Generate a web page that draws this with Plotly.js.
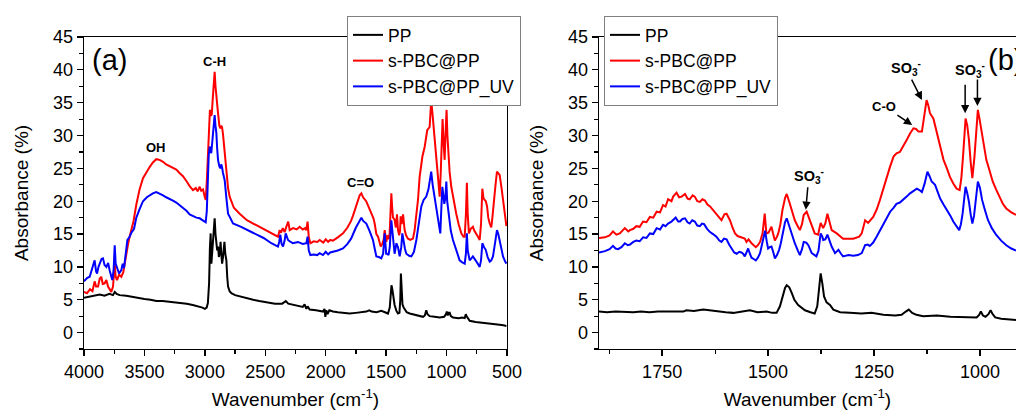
<!DOCTYPE html>
<html>
<head>
<meta charset="utf-8">
<script src="https://cdn.plot.ly/plotly-3.0.1.min.js"></script>
<style>html,body{margin:0;padding:0;background:#fff;}#chart{width:1016px;height:410px;}</style>
</head>
<body>
<div id="chart"></div>
<script>
// Series names
const seriesNames = ["PP", "s-PBC@PP", "s-PBC@PP_UV"];

// Panel (a): [wavenumber cm-1, absorbance %] readings
const ppA = [[4000,5.3],[3950,5.5],[3900,5.6],[3870,5.8],[3830,5.6],[3790,5.9],[3760,5.7],[3745,6.2],[3730,5.9],[3705,5.7],[3650,5.6],[3600,5.4],[3550,5.3],[3500,5.1],[3450,5.0],[3400,4.8],[3350,4.8],[3300,4.7],[3250,4.7],[3200,4.5],[3150,4.4],[3100,4.2],[3050,4.0],[3020,3.8],[3000,3.6],[2985,3.8],[2975,4.5],[2965,7.5],[2958,13.0],[2952,15.1],[2946,10.5],[2940,12.0],[2933,13.6],[2926,15.5],[2919,17.4],[2912,15.0],[2905,14.1],[2898,12.5],[2891,13.1],[2884,11.5],[2877,12.1],[2870,13.8],[2864,12.0],[2857,10.5],[2850,11.5],[2843,13.0],[2838,13.8],[2831,12.0],[2822,11.0],[2815,8.5],[2808,7.0],[2795,6.3],[2781,6.0],[2750,5.7],[2712,5.5],[2650,5.2],[2600,5.0],[2550,4.8],[2491,4.6],[2420,4.4],[2360,4.4],[2340,4.6],[2330,4.8],[2310,4.4],[2270,4.2],[2216,4.0],[2190,3.9],[2175,4.3],[2160,3.6],[2150,4.0],[2133,3.5],[2080,3.4],[2040,3.3],[2023,3.2],[2010,3.6],[2003,2.4],[1995,3.4],[1985,2.8],[1970,3.4],[1940,3.2],[1900,3.1],[1850,3.0],[1802,2.9],[1750,3.0],[1700,3.1],[1664,3.2],[1640,3.4],[1620,3.2],[1580,3.1],[1540,3.3],[1510,3.1],[1485,2.9],[1470,3.8],[1462,6.0],[1456,7.2],[1448,6.5],[1440,5.0],[1430,4.2],[1415,3.3],[1402,2.9],[1390,3.0],[1383,5.0],[1378,9.0],[1372,6.0],[1365,4.3],[1355,3.8],[1330,3.1],[1305,2.9],[1250,2.7],[1195,2.4],[1180,2.6],[1168,3.4],[1158,2.8],[1140,2.5],[1100,2.4],[1057,2.3],[1020,2.4],[1005,2.8],[998,3.2],[990,2.6],[982,3.0],[974,3.0],[965,2.5],[947,2.3],[900,2.2],[870,2.3],[850,2.2],[841,2.8],[835,2.5],[820,2.0],[809,1.8],[760,1.6],[699,1.5],[650,1.4],[600,1.3],[561,1.2],[530,1.1],[505,1.0]];

const redA = [[4000,6.2],[3975,6.0],[3950,6.6],[3930,6.3],[3912,7.8],[3900,7.0],[3884,7.0],[3870,8.2],[3857,8.5],[3845,7.4],[3829,7.5],[3815,8.0],[3801,7.0],[3788,6.6],[3774,6.2],[3760,7.0],[3746,10.5],[3738,8.5],[3727,8.0],[3710,8.8],[3691,8.5],[3675,9.2],[3660,11.0],[3650,12.1],[3635,13.5],[3620,14.8],[3608,15.6],[3590,17.0],[3567,19.5],[3540,21.8],[3512,23.5],[3480,24.6],[3457,25.2],[3430,25.9],[3402,26.4],[3375,26.3],[3346,26.0],[3320,25.6],[3291,25.3],[3264,25.0],[3236,24.8],[3210,24.3],[3181,23.8],[3150,23.0],[3126,22.3],[3098,21.7],[3075,22.0],[3060,21.5],[3043,22.2],[3030,21.6],[3015,21.8],[3003,20.8],[2993,20.2],[2984,23.0],[2974,27.3],[2965,33.0],[2958,33.9],[2950,33.0],[2943,33.2],[2935,35.5],[2926,38.0],[2919,39.7],[2912,37.5],[2905,35.9],[2898,34.0],[2891,33.4],[2880,31.5],[2872,31.1],[2865,31.5],[2858,31.3],[2850,30.2],[2845,29.3],[2835,27.0],[2822,24.2],[2808,22.0],[2795,20.7],[2760,19.0],[2712,18.1],[2652,17.1],[2600,16.6],[2514,15.8],[2450,15.2],[2395,14.6],[2381,15.6],[2370,15.2],[2355,15.9],[2340,15.3],[2326,16.1],[2310,16.9],[2298,15.6],[2270,15.9],[2240,15.7],[2216,16.1],[2190,15.7],[2170,15.9],[2160,15.6],[2150,16.9],[2140,14.5],[2127,13.6],[2100,13.9],[2070,13.8],[2050,14.1],[2020,13.7],[2000,14.2],[1980,13.8],[1963,14.1],[1940,14.0],[1900,14.5],[1857,15.1],[1820,16.0],[1790,17.0],[1774,17.8],[1750,19.2],[1730,20.3],[1719,20.9],[1705,21.2],[1691,20.6],[1665,20.0],[1650,19.4],[1636,18.7],[1620,18.0],[1605,17.4],[1595,16.6],[1581,15.0],[1567,14.6],[1555,13.6],[1545,13.1],[1532,13.5],[1520,14.2],[1512,15.6],[1505,14.0],[1498,13.8],[1490,14.8],[1480,14.2],[1471,15.1],[1462,18.5],[1457,21.2],[1450,19.0],[1443,17.5],[1430,17.2],[1420,16.0],[1410,18.0],[1402,15.6],[1392,14.8],[1385,15.5],[1380,17.7],[1372,16.5],[1360,18.0],[1347,15.6],[1335,14.8],[1319,14.3],[1300,14.1],[1278,14.3],[1265,15.5],[1250,17.6],[1236,20.3],[1223,23.7],[1200,26.8],[1181,28.3],[1160,30.8],[1140,31.3],[1127,35.4],[1115,33.0],[1107,31.3],[1095,28.5],[1085,26.3],[1070,23.0],[1057,20.7],[1048,24.5],[1040,30.3],[1033,32.5],[1025,29.0],[1016,26.3],[1008,30.5],[1000,33.9],[993,30.0],[988,27.8],[975,24.5],[961,22.2],[940,20.0],[920,18.1],[900,16.5],[878,15.1],[860,14.6],[850,14.6],[840,18.0],[832,22.8],[825,18.0],[815,15.1],[800,15.8],[782,16.1],[770,15.5],[754,15.1],[740,14.6],[726,14.1],[715,16.5],[704,21.9],[695,20.5],[685,20.2],[675,20.0],[665,19.2],[655,17.5],[643,16.6],[630,16.0],[621,17.5],[605,20.0],[595,22.5],[583,24.5],[572,24.3],[561,24.0],[545,22.0],[530,19.5],[515,17.6],[505,16.2]];

const blueA = [[4000,7.8],[3975,8.3],[3953,8.5],[3935,9.6],[3912,11.0],[3900,9.3],[3892,9.0],[3880,10.0],[3870,10.5],[3855,11.2],[3843,11.3],[3830,10.3],[3815,10.0],[3800,10.6],[3788,9.5],[3775,8.6],[3766,8.0],[3755,9.5],[3746,13.3],[3738,10.5],[3727,10.0],[3710,9.0],[3691,9.5],[3680,10.5],[3669,9.8],[3655,12.5],[3641,14.1],[3625,14.5],[3608,15.2],[3586,15.8],[3567,17.5],[3540,18.8],[3512,20.0],[3480,20.6],[3457,20.9],[3430,21.2],[3402,21.4],[3375,21.2],[3346,20.9],[3320,20.6],[3291,20.4],[3264,20.1],[3236,19.8],[3210,19.4],[3181,19.0],[3150,18.5],[3126,18.0],[3098,17.7],[3070,17.5],[3043,17.4],[3025,17.2],[3010,17.0],[2993,16.8],[2984,18.5],[2977,22.4],[2968,27.0],[2960,28.3],[2953,28.0],[2947,27.3],[2940,29.0],[2933,30.5],[2926,32.2],[2919,33.1],[2912,31.5],[2905,30.4],[2898,28.0],[2891,26.3],[2880,25.3],[2872,25.0],[2865,25.6],[2858,25.2],[2850,24.3],[2836,23.2],[2822,20.5],[2808,18.1],[2791,17.5],[2767,16.6],[2700,16.1],[2652,15.6],[2602,15.2],[2514,14.4],[2450,13.6],[2395,13.1],[2385,13.8],[2376,14.9],[2365,13.5],[2353,13.1],[2340,14.0],[2331,15.1],[2320,14.3],[2312,14.1],[2290,13.8],[2271,13.6],[2230,13.8],[2190,13.5],[2160,13.6],[2150,14.6],[2140,12.5],[2127,11.8],[2100,11.9],[2070,11.8],[2050,12.1],[2023,11.8],[2000,12.3],[1980,11.9],[1963,12.2],[1940,12.3],[1900,12.5],[1857,12.8],[1820,13.5],[1790,14.3],[1774,15.0],[1750,16.0],[1720,17.0],[1705,17.5],[1690,17.0],[1664,16.6],[1640,15.6],[1625,15.0],[1609,14.1],[1595,12.8],[1581,11.6],[1560,11.5],[1540,11.3],[1525,12.0],[1512,15.1],[1500,12.0],[1492,12.0],[1480,11.8],[1470,13.0],[1457,17.1],[1448,15.5],[1440,13.2],[1430,12.0],[1415,13.6],[1402,13.0],[1388,11.6],[1375,13.0],[1366,15.1],[1355,13.5],[1345,12.8],[1333,12.0],[1310,11.7],[1291,11.6],[1270,12.3],[1250,14.1],[1230,17.0],[1209,19.2],[1190,20.2],[1168,20.7],[1150,21.8],[1127,24.5],[1115,22.5],[1099,20.7],[1085,18.8],[1071,17.1],[1052,15.1],[1043,19.0],[1035,22.2],[1027,21.0],[1019,19.6],[1010,20.5],[1002,23.0],[995,20.0],[982,17.7],[965,15.5],[947,14.1],[920,12.5],[892,11.0],[870,10.7],[850,10.5],[840,12.0],[832,15.1],[825,12.5],[809,11.0],[795,11.3],[782,11.6],[760,11.0],[740,10.3],[726,10.0],[715,11.0],[704,13.6],[690,13.0],[676,12.6],[660,11.5],[643,10.8],[630,11.0],[616,11.6],[600,13.5],[583,15.6],[572,15.0],[561,14.1],[545,12.5],[533,11.6],[515,10.8],[505,10.5]];

// Panel (b): [wavenumber cm-1, absorbance %] readings
const ppB = [[1899,3.2],[1880,3.1],[1860,3.2],[1840,3.1],[1818,3.1],[1800,3.2],[1780,3.1],[1760,3.2],[1740,3.2],[1720,3.3],[1700,3.2],[1693,3.4],[1675,3.3],[1653,3.5],[1630,3.3],[1600,3.1],[1582,3.0],[1560,3.2],[1543,3.4],[1525,3.1],[1504,3.2],[1490,3.0],[1480,3.0],[1472,4.0],[1466,5.5],[1460,6.8],[1456,7.2],[1450,6.9],[1444,6.0],[1438,5.0],[1429,4.2],[1420,3.7],[1413,3.4],[1400,3.1],[1390,2.9],[1384,4.0],[1380,6.5],[1376,9.0],[1372,7.5],[1368,5.5],[1362,4.6],[1354,4.2],[1346,3.5],[1330,3.1],[1307,3.0],[1280,2.9],[1256,3.0],[1228,2.7],[1200,2.6],[1185,2.7],[1175,3.2],[1168,3.5],[1160,3.0],[1150,2.7],[1134,2.5],[1102,2.6],[1070,2.4],[1032,2.3],[1008,2.3],[1002,2.7],[998,3.2],[993,2.6],[987,2.4],[980,2.8],[975,3.4],[970,2.8],[964,2.3],[950,2.1],[937,2.0],[915,1.9]];

const redB = [[1899,14.4],[1885,14.5],[1874,14.8],[1866,15.4],[1858,14.9],[1850,15.1],[1838,15.9],[1830,15.4],[1826,15.6],[1818,15.8],[1811,16.2],[1803,16.1],[1795,16.9],[1787,16.8],[1779,17.6],[1771,17.5],[1763,18.4],[1755,18.3],[1748,19.4],[1742,19.2],[1736,20.3],[1728,20.0],[1724,20.7],[1716,21.3],[1710,20.6],[1704,20.7],[1696,21.1],[1690,20.4],[1685,20.3],[1678,20.9],[1673,20.7],[1667,20.0],[1661,19.9],[1655,20.3],[1649,20.1],[1643,19.5],[1637,19.2],[1630,18.7],[1622,18.1],[1615,17.5],[1610,17.1],[1603,18.0],[1598,18.1],[1590,17.1],[1584,16.0],[1578,15.1],[1572,14.7],[1567,14.6],[1559,14.5],[1555,14.3],[1551,13.8],[1546,14.2],[1539,13.6],[1533,13.2],[1529,13.0],[1524,13.3],[1519,13.8],[1513,15.1],[1508,18.1],[1504,15.1],[1499,15.2],[1496,15.6],[1492,16.1],[1488,15.0],[1484,14.0],[1479,14.6],[1476,15.1],[1471,16.5],[1466,18.7],[1460,20.5],[1456,21.1],[1449,19.7],[1443,18.4],[1437,17.1],[1430,16.2],[1425,15.6],[1420,16.5],[1416,17.9],[1409,18.4],[1401,16.9],[1395,15.8],[1390,15.1],[1382,14.9],[1376,16.7],[1370,15.9],[1365,16.6],[1360,18.1],[1355,16.9],[1350,15.6],[1338,15.1],[1323,14.3],[1310,14.3],[1299,14.3],[1285,14.6],[1279,15.1],[1271,17.1],[1264,16.7],[1252,17.6],[1244,18.7],[1236,20.2],[1228,22.0],[1220,23.7],[1212,25.3],[1204,26.8],[1197,27.3],[1189,27.5],[1181,28.3],[1173,29.3],[1165,30.3],[1157,31.1],[1151,31.0],[1145,30.6],[1137,30.6],[1132,32.5],[1126,35.4],[1122,34.6],[1118,33.4],[1110,32.6],[1104,31.0],[1098,29.3],[1092,27.8],[1086,26.3],[1078,25.0],[1071,23.7],[1063,22.7],[1055,21.9],[1048,21.7],[1044,23.5],[1040,26.8],[1037,30.5],[1034,32.6],[1030,31.5],[1026,29.3],[1022,26.0],[1018,23.5],[1013,26.8],[1009,30.5],[1005,33.9],[1001,32.5],[997,30.8],[991,28.5],[985,26.3],[978,24.8],[970,23.0],[962,21.8],[954,20.7],[946,19.6],[938,18.9],[926,18.3],[915,17.9]];

const blueB = [[1899,12.2],[1885,12.4],[1874,12.7],[1866,13.2],[1860,12.8],[1854,12.7],[1846,13.0],[1838,13.6],[1831,13.3],[1826,13.4],[1818,13.8],[1811,14.0],[1803,13.9],[1795,14.5],[1787,14.4],[1779,15.1],[1771,15.0],[1763,15.9],[1755,15.7],[1748,16.4],[1742,16.2],[1736,16.6],[1728,16.9],[1718,17.5],[1712,16.9],[1708,16.9],[1702,17.3],[1696,17.4],[1690,16.8],[1685,16.6],[1679,17.1],[1673,16.9],[1667,16.3],[1661,16.2],[1656,16.6],[1651,16.5],[1644,15.8],[1637,15.3],[1630,15.0],[1622,14.6],[1615,14.0],[1610,13.8],[1604,14.3],[1598,14.2],[1592,13.4],[1586,12.8],[1580,12.2],[1574,12.0],[1568,12.3],[1563,12.2],[1559,12.0],[1555,11.6],[1551,12.3],[1547,12.8],[1543,12.0],[1539,11.4],[1534,11.2],[1529,11.0],[1524,11.4],[1519,12.1],[1512,14.1],[1507,15.5],[1503,13.8],[1500,12.8],[1496,13.0],[1492,13.1],[1488,12.3],[1484,11.3],[1479,11.8],[1474,12.6],[1470,13.6],[1466,15.1],[1460,16.8],[1456,17.4],[1451,16.4],[1447,15.6],[1442,14.5],[1437,13.6],[1430,12.5],[1425,11.8],[1420,12.7],[1416,13.8],[1410,13.7],[1405,13.3],[1397,12.1],[1392,11.9],[1386,11.6],[1381,12.5],[1376,15.1],[1372,14.6],[1370,14.1],[1365,14.2],[1360,14.9],[1355,14.0],[1350,13.1],[1342,12.1],[1338,12.4],[1334,12.6],[1328,12.0],[1323,11.6],[1310,11.8],[1299,11.7],[1288,11.8],[1279,12.1],[1271,13.3],[1265,13.4],[1260,13.2],[1252,13.7],[1244,14.6],[1236,15.6],[1228,16.6],[1220,17.5],[1212,18.4],[1204,19.0],[1197,19.6],[1189,19.8],[1181,20.2],[1173,20.7],[1165,21.2],[1157,21.6],[1149,21.9],[1143,21.7],[1137,21.4],[1131,22.6],[1124,24.5],[1119,23.8],[1114,23.0],[1106,22.5],[1100,21.5],[1094,20.4],[1086,19.5],[1078,18.7],[1070,17.8],[1063,16.9],[1055,16.2],[1049,15.6],[1045,16.5],[1041,18.1],[1037,20.5],[1034,22.2],[1030,21.2],[1026,19.9],[1022,18.0],[1018,16.6],[1014,17.8],[1012,19.2],[1008,21.5],[1005,23.0],[1000,22.0],[995,20.2],[988,18.6],[981,17.1],[972,15.9],[962,14.9],[950,14.0],[938,13.3],[926,12.8],[915,12.5]];

// Axis ticks
const yTicks = [0, 5, 10, 15, 20, 25, 30, 35, 40, 45];
const xTicksA = [4000, 3500, 3000, 2500, 2000, 1500, 1000, 500];
const xTicksB = [1750, 1500, 1250, 1000];

const colors = ["#000000", "#ff0000", "#0000ff"];
const FONT = "Liberation Sans, Arial, sans-serif";

function mk(data, i, xa, ya, lg, showlegend) {
  return {
    x: data.map(d => d[0]), y: data.map(d => d[1]),
    type: "scatter", mode: "lines", name: seriesNames[i],
    line: {color: colors[i], width: 2},
    xaxis: xa, yaxis: ya, legend: lg, showlegend: showlegend
  };
}

const traces = [
  mk(ppA, 0, "x", "y", "legend", true),
  mk(redA, 1, "x", "y", "legend", true),
  mk(blueA, 2, "x", "y", "legend", true),
  mk(ppB, 0, "x2", "y2", "legend2", true),
  mk(redB, 1, "x2", "y2", "legend2", true),
  mk(blueB, 2, "x2", "y2", "legend2", true)
];

const domA = [84/1016, 507/1016];
const domB = [599/1016, 1.0];
const domY = [61/410, 373/410];
const yRange = [-2.5, 45];
const xRangeA = [4000, 500];
const xRangeB = [1899, 915];

const tickFont = {family: FONT, size: 18, color: "#000"};
const titleFont = {family: FONT, size: 19, color: "#000"};

function mainX(domain, range, tickvals, minorD, anchor) {
  return {
    domain: domain, range: range, anchor: anchor, tickmode: "array", tickvals: tickvals,
    ticks: "outside", ticklen: 6, tickwidth: 1.3, tickcolor: "#000",
    minor: {dtick: minorD, ticks: "outside", ticklen: 3.5, tickwidth: 1.2, tickcolor: "#000", showgrid: false},
    showline: true, linewidth: 1.4, linecolor: "#000", mirror: true,
    showgrid: false, zeroline: false, tickfont: tickFont,
    title: {text: "Wavenumber (cm<sup>-1</sup>)", font: titleFont, standoff: 13},
    automargin: false
  };
}
function mainY(anchor) {
  return {
    domain: domY, range: yRange, anchor: anchor, tickmode: "array", tickvals: yTicks,
    ticks: "outside", ticklen: 6, tickwidth: 1.3, tickcolor: "#000",
    minor: {dtick: 2.5, tick0: 0, ticks: "outside", ticklen: 3.5, tickwidth: 1.2, tickcolor: "#000", showgrid: false},
    showline: true, linewidth: 1.4, linecolor: "#000", mirror: true,
    showgrid: false, zeroline: false, tickfont: tickFont,
    title: {text: "Absorbance (%)", font: titleFont, standoff: 19},
    automargin: false
  };
}
function mirrorX(overlay, range, tickvals, minorD, anchor) {
  return {
    overlaying: overlay, side: "top", anchor: anchor, range: range, tickmode: "array", tickvals: tickvals,
    ticks: "inside", ticklen: 6, tickwidth: 1.3, tickcolor: "#000",
    minor: {dtick: minorD, ticks: "inside", ticklen: 3.5, tickwidth: 1.2, tickcolor: "#000", showgrid: false},
    showline: false, showgrid: false, zeroline: false, showticklabels: false
  };
}
function mirrorY(overlay, anchor) {
  return {
    overlaying: overlay, side: "right", anchor: anchor, range: yRange, tickmode: "array", tickvals: yTicks,
    ticks: "inside", ticklen: 6, tickwidth: 1.3, tickcolor: "#000",
    minor: {dtick: 2.5, tick0: 0, ticks: "inside", ticklen: 3.5, tickwidth: 1.2, tickcolor: "#000", showgrid: false},
    showline: false, showgrid: false, zeroline: false, showticklabels: false
  };
}

const lblFont = {family: FONT, size: 13, color: "#000", weight: "bold"};
const soFont = {family: FONT, size: 14.5, color: "#000", weight: "bold"};
const SO3m = "<b>SO<sub>3</sub><sup>-</sup></b>";

const annotations = [
  {xref: "x", yref: "y", x: 3787, y: 41.5, text: "(a)", showarrow: false, font: {family: FONT, size: 29, color: "#000"}},
  {xref: "x", yref: "y", x: 2917, y: 41.2, text: "<b>C-H</b>", showarrow: false, font: lblFont},
  {xref: "x", yref: "y", x: 3406, y: 28.2, text: "<b>OH</b>", showarrow: false, font: lblFont},
  {xref: "x", yref: "y", x: 1716, y: 22.8, text: "<b>C=O</b>", showarrow: false, font: lblFont},
  {xref: "x2", yref: "y2", x: 985, y: 41.5, text: "(b)", xanchor: "left", showarrow: false, font: {family: FONT, size: 29, color: "#000"}},
  {xref: "x2", yref: "y2", x: 1411, y: 18.7, text: SO3m, showarrow: true, ax: 3, ay: -34, arrowhead: 2, arrowsize: 1.1, arrowwidth: 1.5, arrowcolor: "#000", font: soFont},
  {xref: "x2", yref: "y2", x: 1160, y: 31.6, text: "<b>C-O</b>", showarrow: true, ax: -28, ay: -19, arrowhead: 2, arrowsize: 1.1, arrowwidth: 1.5, arrowcolor: "#000", font: lblFont},
  {xref: "x2", yref: "y2", x: 1137, y: 35.4, text: SO3m, showarrow: true, ax: -16, ay: -32, arrowhead: 2, arrowsize: 1.1, arrowwidth: 1.5, arrowcolor: "#000", font: soFont},
  {xref: "x2", yref: "y2", x: 1023, y: 40.0, text: SO3m, showarrow: false, font: soFont},
  {xref: "x2", yref: "y2", x: 1035, y: 33.4, text: "", showarrow: true, ax: 0, ay: -30, arrowhead: 2, arrowsize: 1.1, arrowwidth: 1.5, arrowcolor: "#000"},
  {xref: "x2", yref: "y2", x: 1006, y: 34.5, text: "", showarrow: true, ax: 0, ay: -28, arrowhead: 2, arrowsize: 1.1, arrowwidth: 1.5, arrowcolor: "#000"}
];

const legendBase = {
  xanchor: "left", yanchor: "top", bgcolor: "#ffffff", bordercolor: "#808080", borderwidth: 1,
  font: {family: FONT, size: 17.5, color: "#000"}, tracegroupgap: 0, itemwidth: 30
};

const layout = {
  width: 1016, height: 410,
  margin: {l: 0, r: 0, t: 0, b: 0, pad: 0},
  paper_bgcolor: "#ffffff", plot_bgcolor: "#ffffff",
  font: {family: FONT, color: "#000"},
  showlegend: true,
  xaxis: mainX(domA, xRangeA, xTicksA, 250, "y"),
  yaxis: mainY("x"),
  xaxis2: mainX(domB, xRangeB, xTicksB, 125, "y2"),
  yaxis2: mainY("x2"),
  xaxis3: mirrorX("x", xRangeA, xTicksA, 250, "y"),
  yaxis3: mirrorY("y", "x"),
  xaxis4: mirrorX("x2", xRangeB, xTicksB, 125, "y2"),
  yaxis4: mirrorY("y2", "x2"),
  legend: Object.assign({}, legendBase, {x: 347/1016, y: 394/410}),
  legend2: Object.assign({}, legendBase, {x: 604/1016, y: 394/410}),
  annotations: annotations
};
layout.xaxis2.minor.tick0 = 1000;

Plotly.newPlot("chart", traces, layout, {staticPlot: true, displayModeBar: false});
</script>
</body>
</html>
